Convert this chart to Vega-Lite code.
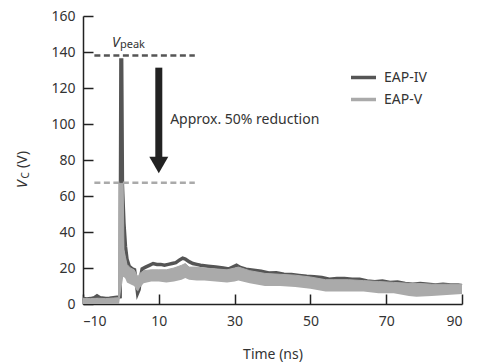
{
  "$schema": "https://vega.github.io/schema/vega-lite/v6.json",
  "width": 379,
  "height": 288,
  "autosize": {"type": "none"},
  "padding": {"left": 83, "top": 16, "right": 15, "bottom": 58},
  "config": {
    "font": "Noto Sans",
    "view": {"stroke": null},
    "style": {"guide-title": {"fontWeight": "normal"}},
    "axis": {
      "domainColor": "#222222",
      "domainWidth": 1.5,
      "tickColor": "#222222",
      "tickWidth": 1.5,
      "tickSize": -10,
      "labelFontSize": 14,
      "labelColor": "#333333",
      "labelOverlap": false,
      "titleFontSize": 14,
      "titleFontWeight": "normal",
      "titleColor": "#333333",
      "grid": false
    },
    "legend": {
      "orient": "none",
      "legendX": 266,
      "legendY": 47,
      "symbolType": "stroke",
      "symbolSize": 625,
      "symbolStrokeWidth": 3.5,
      "labelFontSize": 14,
      "labelColor": "#333333",
      "labelOffset": 6,
      "rowPadding": 0
    }
  },
  "datasets": {
    "dark": [
      {"series": "EAP-IV", "t": -10, "v": 3}, {"series": "EAP-IV", "t": -9, "v": 2.8}, {"series": "EAP-IV", "t": -8, "v": 3},
      {"series": "EAP-IV", "t": -7, "v": 3.5}, {"series": "EAP-IV", "t": -6.3, "v": 4.5}, {"series": "EAP-IV", "t": -5.5, "v": 3.5},
      {"series": "EAP-IV", "t": -4, "v": 3}, {"series": "EAP-IV", "t": -3, "v": 3.2}, {"series": "EAP-IV", "t": -2, "v": 3.5},
      {"series": "EAP-IV", "t": -1, "v": 3.8}, {"series": "EAP-IV", "t": -0.2, "v": 4}, {"series": "EAP-IV", "t": 0, "v": 135.5},
      {"series": "EAP-IV", "t": 0.2, "v": 135.5}, {"series": "EAP-IV", "t": 0.4, "v": 66}, {"series": "EAP-IV", "t": 0.8, "v": 45},
      {"series": "EAP-IV", "t": 1.2, "v": 32}, {"series": "EAP-IV", "t": 1.6, "v": 25}, {"series": "EAP-IV", "t": 2.2, "v": 21},
      {"series": "EAP-IV", "t": 3, "v": 19.5}, {"series": "EAP-IV", "t": 3.6, "v": 19}, {"series": "EAP-IV", "t": 4, "v": 13},
      {"series": "EAP-IV", "t": 4.4, "v": 6}, {"series": "EAP-IV", "t": 4.8, "v": 8}, {"series": "EAP-IV", "t": 5.2, "v": 15},
      {"series": "EAP-IV", "t": 5.6, "v": 19.5}, {"series": "EAP-IV", "t": 6.5, "v": 20.5}, {"series": "EAP-IV", "t": 7.5, "v": 21.5},
      {"series": "EAP-IV", "t": 8.5, "v": 22.5}, {"series": "EAP-IV", "t": 9.5, "v": 22}, {"series": "EAP-IV", "t": 10.5, "v": 22},
      {"series": "EAP-IV", "t": 11.5, "v": 21.5}, {"series": "EAP-IV", "t": 12.5, "v": 22}, {"series": "EAP-IV", "t": 13.5, "v": 22.5},
      {"series": "EAP-IV", "t": 14.5, "v": 23}, {"series": "EAP-IV", "t": 15.5, "v": 24.5}, {"series": "EAP-IV", "t": 16.3, "v": 25.5},
      {"series": "EAP-IV", "t": 17, "v": 25}, {"series": "EAP-IV", "t": 18, "v": 23.5}, {"series": "EAP-IV", "t": 19, "v": 22.5},
      {"series": "EAP-IV", "t": 20, "v": 22}, {"series": "EAP-IV", "t": 21, "v": 21.5}, {"series": "EAP-IV", "t": 23, "v": 21},
      {"series": "EAP-IV", "t": 25, "v": 20.5}, {"series": "EAP-IV", "t": 27, "v": 20}, {"series": "EAP-IV", "t": 28.5, "v": 19.5},
      {"series": "EAP-IV", "t": 29.5, "v": 20.5}, {"series": "EAP-IV", "t": 30.5, "v": 21.5}, {"series": "EAP-IV", "t": 31.5, "v": 20.3},
      {"series": "EAP-IV", "t": 33, "v": 19.3}, {"series": "EAP-IV", "t": 35, "v": 18.8}, {"series": "EAP-IV", "t": 37, "v": 18.2},
      {"series": "EAP-IV", "t": 39, "v": 17.2}, {"series": "EAP-IV", "t": 41, "v": 17.4}, {"series": "EAP-IV", "t": 43, "v": 16.5},
      {"series": "EAP-IV", "t": 45, "v": 16.4}, {"series": "EAP-IV", "t": 47, "v": 15.9}, {"series": "EAP-IV", "t": 49, "v": 15.4},
      {"series": "EAP-IV", "t": 51, "v": 15.2}, {"series": "EAP-IV", "t": 53, "v": 14.7}, {"series": "EAP-IV", "t": 55, "v": 13.8},
      {"series": "EAP-IV", "t": 57, "v": 14.2}, {"series": "EAP-IV", "t": 59, "v": 14.2}, {"series": "EAP-IV", "t": 61, "v": 13.7},
      {"series": "EAP-IV", "t": 63, "v": 13.7}, {"series": "EAP-IV", "t": 65, "v": 12.8}, {"series": "EAP-IV", "t": 67, "v": 12.4},
      {"series": "EAP-IV", "t": 69, "v": 12.8}, {"series": "EAP-IV", "t": 71, "v": 11.9}, {"series": "EAP-IV", "t": 73, "v": 12.2},
      {"series": "EAP-IV", "t": 75, "v": 11.4}, {"series": "EAP-IV", "t": 77, "v": 11}, {"series": "EAP-IV", "t": 79, "v": 11.4},
      {"series": "EAP-IV", "t": 81, "v": 11}, {"series": "EAP-IV", "t": 83, "v": 10.5}, {"series": "EAP-IV", "t": 85, "v": 10.9},
      {"series": "EAP-IV", "t": 87, "v": 10.5}, {"series": "EAP-IV", "t": 89, "v": 10.5}, {"series": "EAP-IV", "t": 90, "v": 10.2}
    ],
    "light": [
      {"series": "EAP-V", "t": -10, "lo": 0, "hi": 3}, {"series": "EAP-V", "t": -8, "lo": 0, "hi": 3},
      {"series": "EAP-V", "t": -6, "lo": 0, "hi": 3.2}, {"series": "EAP-V", "t": -4, "lo": 0, "hi": 3},
      {"series": "EAP-V", "t": -2, "lo": 0, "hi": 3.3}, {"series": "EAP-V", "t": -0.6, "lo": 0, "hi": 3.5},
      {"series": "EAP-V", "t": -0.5, "lo": 0, "hi": 67}, {"series": "EAP-V", "t": 0.6, "lo": 15, "hi": 67},
      {"series": "EAP-V", "t": 0.8, "lo": 15, "hi": 30}, {"series": "EAP-V", "t": 1.2, "lo": 14, "hi": 26},
      {"series": "EAP-V", "t": 1.6, "lo": 12, "hi": 22}, {"series": "EAP-V", "t": 2.5, "lo": 11, "hi": 20},
      {"series": "EAP-V", "t": 3.5, "lo": 10, "hi": 19}, {"series": "EAP-V", "t": 4, "lo": 8, "hi": 17},
      {"series": "EAP-V", "t": 4.5, "lo": 7, "hi": 15}, {"series": "EAP-V", "t": 5, "lo": 9, "hi": 17},
      {"series": "EAP-V", "t": 6, "lo": 11.5, "hi": 18.5}, {"series": "EAP-V", "t": 8, "lo": 12.5, "hi": 19},
      {"series": "EAP-V", "t": 10, "lo": 12.5, "hi": 19}, {"series": "EAP-V", "t": 12, "lo": 12, "hi": 19},
      {"series": "EAP-V", "t": 14, "lo": 12.5, "hi": 20}, {"series": "EAP-V", "t": 16, "lo": 13.5, "hi": 21.5},
      {"series": "EAP-V", "t": 17, "lo": 14.5, "hi": 22.5}, {"series": "EAP-V", "t": 18, "lo": 13.5, "hi": 20.5},
      {"series": "EAP-V", "t": 20, "lo": 13, "hi": 20.5}, {"series": "EAP-V", "t": 22, "lo": 13, "hi": 20},
      {"series": "EAP-V", "t": 25, "lo": 12.5, "hi": 19.5}, {"series": "EAP-V", "t": 28, "lo": 12, "hi": 19},
      {"series": "EAP-V", "t": 30, "lo": 12.5, "hi": 20}, {"series": "EAP-V", "t": 31, "lo": 13, "hi": 20.5},
      {"series": "EAP-V", "t": 34, "lo": 11.5, "hi": 18.5}, {"series": "EAP-V", "t": 38, "lo": 10, "hi": 17},
      {"series": "EAP-V", "t": 42, "lo": 10, "hi": 16.5}, {"series": "EAP-V", "t": 46, "lo": 9.5, "hi": 16},
      {"series": "EAP-V", "t": 50, "lo": 8.5, "hi": 15}, {"series": "EAP-V", "t": 54, "lo": 7, "hi": 13.5},
      {"series": "EAP-V", "t": 56, "lo": 7, "hi": 13.5}, {"series": "EAP-V", "t": 60, "lo": 7, "hi": 13.5},
      {"series": "EAP-V", "t": 64, "lo": 7, "hi": 13}, {"series": "EAP-V", "t": 68, "lo": 6, "hi": 12.5},
      {"series": "EAP-V", "t": 72, "lo": 6, "hi": 12}, {"series": "EAP-V", "t": 76, "lo": 4.5, "hi": 11.5},
      {"series": "EAP-V", "t": 78, "lo": 4, "hi": 11.5}, {"series": "EAP-V", "t": 82, "lo": 4.5, "hi": 11},
      {"series": "EAP-V", "t": 86, "lo": 5, "hi": 11}, {"series": "EAP-V", "t": 90, "lo": 5.5, "hi": 11}
    ]
  },
  "layer": [
    {
      "data": {"name": "dark"},
      "mark": {"type": "line", "strokeWidth": 3.5, "strokeJoin": "miter"},
      "encoding": {
        "x": {"field": "t", "type": "quantitative",
              "scale": {"domain": [-10, 90], "nice": false, "zero": false},
              "axis": {"values": [-10, 10, 30, 50, 70, 90], "title": "Time (ns)", "labelPadding": 20, "titlePadding": 19,
                       "titleFontWeight": "normal", "labelOverlap": false,
                       "labelExpr": "datum.value < 0 ? '–' + abs(datum.value) : datum.label"}},
        "y": {"field": "v", "type": "quantitative",
              "scale": {"domain": [0, 160], "nice": false},
              "axis": {"values": [0, 20, 40, 60, 80, 100, 120, 140, 160], "tickCount": 9, "title": null, "labelPadding": 18, "labelOverlap": false}},
        "color": {"field": "series", "type": "nominal",
                  "scale": {"domain": ["EAP-IV", "EAP-V"], "range": ["#555555", "#aaaaaa"]},
                  "legend": {"title": null}}
      }
    },
    {
      "data": {"name": "light"},
      "mark": {"type": "area", "color": "#aaaaaa", "opacity": 1},
      "encoding": {
        "x": {"field": "t", "type": "quantitative"},
        "y": {"field": "lo", "type": "quantitative"},
        "y2": {"field": "hi"}
      }
    },
    {
      "data": {"name": "light"},
      "mark": {"type": "line", "strokeWidth": 1},
      "encoding": {
        "x": {"field": "t", "type": "quantitative"},
        "y": {"field": "hi", "type": "quantitative"},
        "color": {"field": "series", "type": "nominal"}
      }
    },
    {
      "data": {"values": [{"a": -7, "b": 19.5, "v": 138}]},
      "mark": {"type": "rule", "color": "#555555", "strokeWidth": 2.5, "strokeDash": [6, 3.5]},
      "encoding": {
        "x": {"field": "a", "type": "quantitative"},
        "x2": {"field": "b"},
        "y": {"field": "v", "type": "quantitative"}
      }
    },
    {
      "data": {"values": [{"a": -7, "b": 19.5, "v": 67.4}]},
      "mark": {"type": "rule", "color": "#aaaaaa", "strokeWidth": 2.5, "strokeDash": [6, 3.5]},
      "encoding": {
        "x": {"field": "a", "type": "quantitative"},
        "x2": {"field": "b"},
        "y": {"field": "v", "type": "quantitative"}
      }
    },
    {
      "data": {"values": [{"x": 10, "top": 131.3, "bottom": 80.5}]},
      "mark": {"type": "rule", "color": "#222222", "strokeWidth": 7, "strokeCap": "butt"},
      "encoding": {
        "x": {"field": "x", "type": "quantitative"},
        "y": {"field": "top", "type": "quantitative"},
        "y2": {"field": "bottom"}
      }
    },
    {
      "data": {"values": [{"x": 10, "y": 77.2}]},
      "mark": {"type": "point", "shape": "M-1,-0.87L1,-0.87L0,0.87Z", "size": 361, "filled": true, "color": "#222222", "opacity": 1},
      "encoding": {
        "x": {"field": "x", "type": "quantitative"},
        "y": {"field": "y", "type": "quantitative"}
      }
    },
    {
      "data": {"values": [{"x": -2.35, "y": 143, "label": "V"}]},
      "mark": {"type": "text", "fontSize": 14, "fontStyle": "italic", "align": "left", "baseline": "alphabetic", "color": "#333333"},
      "encoding": {
        "x": {"field": "x", "type": "quantitative"},
        "y": {"field": "y", "type": "quantitative"},
        "text": {"field": "label"}
      }
    },
    {
      "data": {"values": [{"x": -0.25, "y": 142.4, "label": "peak"}]},
      "mark": {"type": "text", "fontSize": 11, "align": "left", "baseline": "alphabetic", "color": "#333333"},
      "encoding": {
        "x": {"field": "x", "type": "quantitative"},
        "y": {"field": "y", "type": "quantitative"},
        "text": {"field": "label"}
      }
    },
    {
      "data": {"values": [{"x": 13, "y": 100, "label": "Approx. 50% reduction"}]},
      "mark": {"type": "text", "fontSize": 14, "align": "left", "baseline": "alphabetic", "color": "#333333"},
      "encoding": {
        "x": {"field": "x", "type": "quantitative"},
        "y": {"field": "y", "type": "quantitative"},
        "text": {"field": "label"}
      }
    },
    {
      "data": {"values": [{"x": -24.87, "y": 64.4, "label": "V"}]},
      "mark": {"type": "text", "fontSize": 14, "fontStyle": "italic", "angle": 270, "align": "left", "baseline": "alphabetic", "color": "#333333"},
      "encoding": {
        "x": {"field": "x", "type": "quantitative"},
        "y": {"field": "y", "type": "quantitative"},
        "text": {"field": "label"}
      }
    },
    {
      "data": {"values": [{"x": -24.18, "y": 69.7, "label": "C"}]},
      "mark": {"type": "text", "fontSize": 10, "angle": 270, "align": "left", "baseline": "alphabetic", "color": "#333333"},
      "encoding": {
        "x": {"field": "x", "type": "quantitative"},
        "y": {"field": "y", "type": "quantitative"},
        "text": {"field": "label"}
      }
    },
    {
      "data": {"values": [{"x": -24.87, "y": 75.6, "label": "(V)"}]},
      "mark": {"type": "text", "fontSize": 14, "angle": 270, "align": "left", "baseline": "alphabetic", "color": "#333333"},
      "encoding": {
        "x": {"field": "x", "type": "quantitative"},
        "y": {"field": "y", "type": "quantitative"},
        "text": {"field": "label"}
      }
    }
  ]
}
